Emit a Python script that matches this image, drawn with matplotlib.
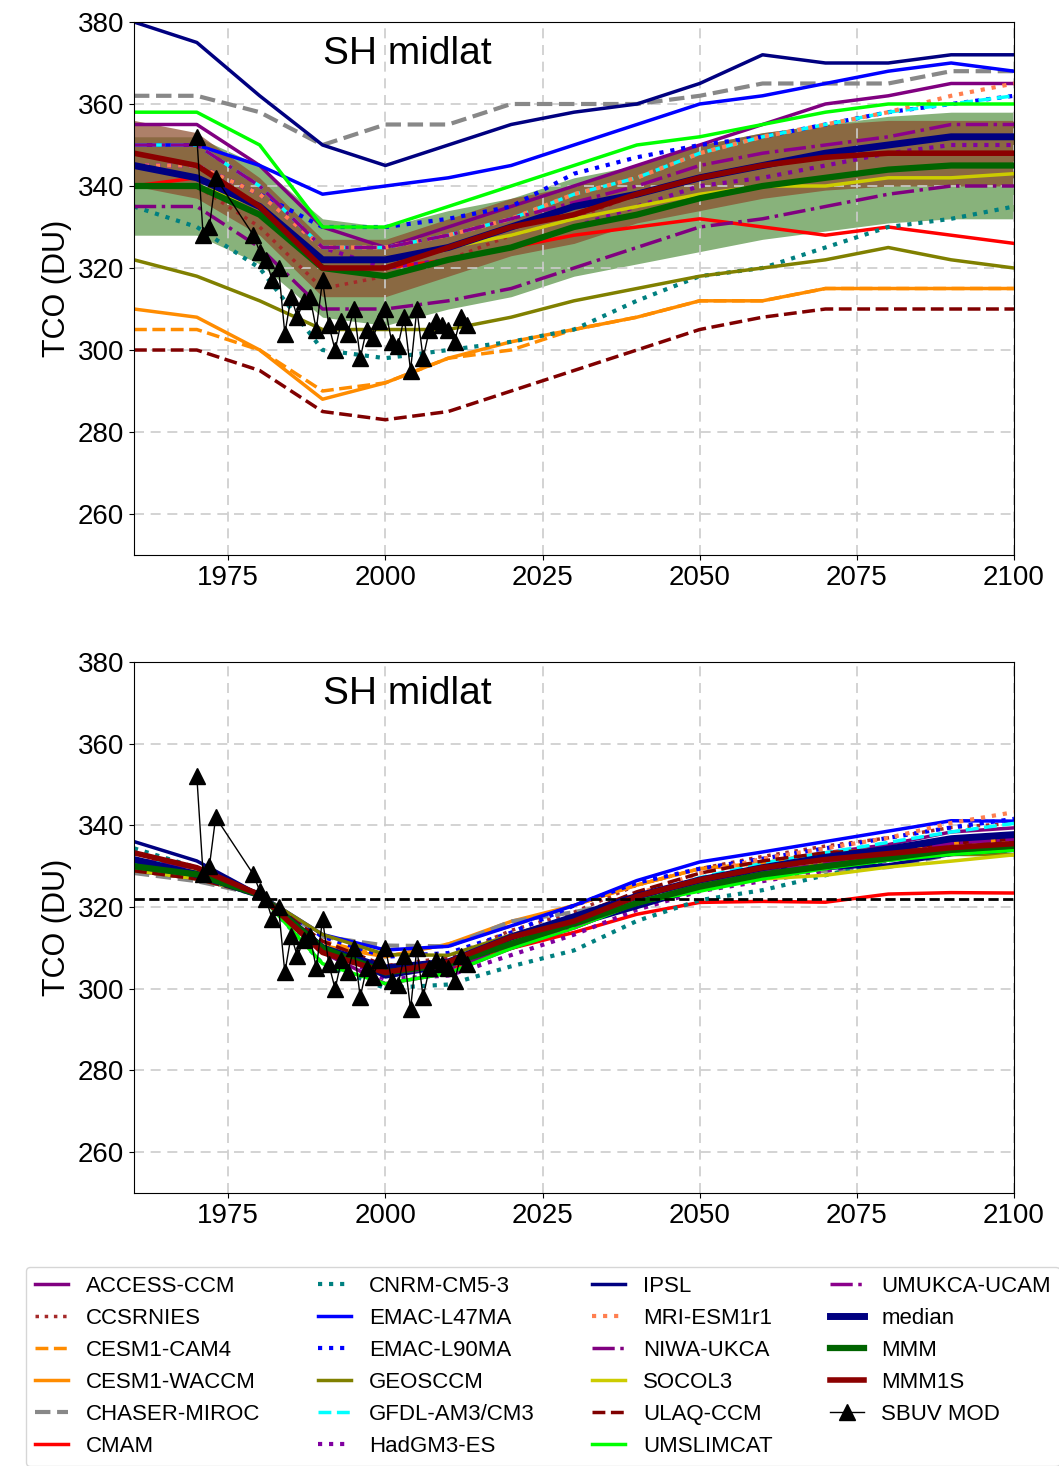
import matplotlib
matplotlib.use("Agg")
import matplotlib.pyplot as plt
import numpy as np
plt.rcParams['font.family'] = ['Liberation Sans', 'DejaVu Sans']

years = [1960,1970,1980,1990,2000,2010,2020,2030,2040,2050,2060,2070,2080,2090,2100]
models = {
 "ACCESS-CCM":   [355,355,345,330,325,330,335,340,345,350,355,360,362,365,365],
 "CCSRNIES":     [340,340,330,315,318,322,328,332,338,342,345,348,350,352,352],
 "CESM1-CAM4":   [305,305,300,290,292,298,300,305,308,312,312,315,315,315,315],
 "CESM1-WACCM":  [310,308,300,288,292,298,302,305,308,312,312,315,315,315,315],
 "CHASER-MIROC": [362,362,358,350,355,355,360,360,360,362,365,365,365,368,368],
 "CMAM":         [340,342,335,320,320,322,325,328,330,332,330,328,330,328,326],
 "CNRM-CM5-3":   [335,330,320,300,298,300,302,305,312,318,320,325,330,332,335],
 "EMAC-L47MA":   [350,350,345,338,340,342,345,350,355,360,362,365,368,370,368],
 "EMAC-L90MA":   [345,345,338,330,330,332,335,343,347,350,352,355,358,360,362],
 "GEOSCCM":      [322,318,312,305,305,305,308,312,315,318,320,322,325,322,320],
 "GFDL-AM3/CM3": [350,350,340,325,325,328,332,338,342,348,352,355,358,360,362],
 "HadGM3-ES":    [345,345,338,325,320,322,325,330,335,340,342,345,348,350,350],
 "IPSL":         [380,375,362,350,345,350,355,358,360,365,372,370,370,372,372],
 "MRI-ESM1r1":   [345,345,338,325,325,328,332,338,342,348,352,355,358,362,365],
 "NIWA-UKCA":    [335,335,325,310,310,312,315,320,325,330,332,335,338,340,340],
 "SOCOL3":       [340,340,335,322,322,325,328,332,335,338,340,340,342,342,343],
 "ULAQ-CCM":     [300,300,295,285,283,285,290,295,300,305,308,310,310,310,310],
 "UMSLIMCAT":    [358,358,350,330,330,335,340,345,350,352,355,358,360,360,360],
 "UMUKCA-UCAM":  [350,350,340,325,325,328,332,336,340,345,348,350,352,355,355],
 "median":       [345,342,335,322,322,325,330,335,338,342,345,348,350,352,352],
 "MMM":          [340,340,333,320,318,322,325,330,333,337,340,342,344,345,345],
 "MMM1S":        [348,345,335,320,320,325,330,333,338,342,345,347,348,348,348],
}
mmm_sd = [12,12,12,12,12,12,12,12,12,13,13,13,13,13,13]
mmm1s_sd = [8,8,7,7,7,7,7,7,7,8,8,8,8,8,8]
# adjusted (bottom panel) multi-model reference curve
adj_ref = [330,328,323,310,304,306,311,316,321,325,328,330,332,334,335]
sbuv_years = [1970,1971,1972,1973,1979,1980,1981,1982,1983,1984,1985,1986,1987,1988,1989,1990,
              1991,1992,1993,1994,1995,1996,1997,1998,1999,2000,2001,2002,2003,2004,2005,2006,
              2007,2008,2009,2010,2011,2012,2013]
sbuv = [352,328,330,342,328,324,322,317,320,304,313,308,312,313,305,317,306,300,307,304,
        310,298,305,303,307,310,302,301,308,295,310,298,305,307,306,305,302,308,306]

styles = {
 "ACCESS-CCM": ("#800080","-",2.5), "CCSRNIES": ("#a52a2a",":",2.5),
 "CESM1-CAM4": ("#ff8c00","--",2.5), "CESM1-WACCM": ("#ff8c00","-",2.5),
 "CHASER-MIROC": ("#888888","--",3), "CMAM": ("#ff0000","-",2.5),
 "CNRM-CM5-3": ("#008080",":",3), "EMAC-L47MA": ("#0000ff","-",2.5),
 "EMAC-L90MA": ("#0000ff",":",3), "GEOSCCM": ("#808000","-",2.5),
 "GFDL-AM3/CM3": ("#00ffff","--",2.5), "HadGM3-ES": ("#8000a0",":",3),
 "IPSL": ("#000080","-",2.5), "MRI-ESM1r1": ("#ff7f50",":",3),
 "NIWA-UKCA": ("#800080","-.",2.5), "SOCOL3": ("#cccc00","-",2.5),
 "ULAQ-CCM": ("#800000","--",2.5), "UMSLIMCAT": ("#00ff00","-",2.5),
 "UMUKCA-UCAM": ("#8b008b","-.",2.5), "median": ("#000080","-",5),
 "MMM": ("#006400","-",4.5), "MMM1S": ("#8b0000","-",4),
}

fig = plt.figure(figsize=(10.59,14.66), dpi=100)
ax1 = fig.add_axes([0.1265,0.6214,0.831,0.3636])
ax2 = fig.add_axes([0.1265,0.1862,0.831,0.3622])
yr = np.array(years)
mmm = np.array(models["MMM"], float)
for ax, adj in ((ax1, False), (ax2, True)):
    m1 = np.array(models["MMM1S"])
    if not adj:
        ax.fill_between(yr, mmm-np.array(mmm_sd), mmm+np.array(mmm_sd), color="#6a9f5a", alpha=0.8, lw=0)
        ax.fill_between(yr, m1-np.array(mmm1s_sd), m1+np.array(mmm1s_sd), color="#8b4a2a", alpha=0.7, lw=0)
    for name, v in models.items():
        v = np.array(v, float)
        if adj:
            dev = (v - v[2]) - (mmm - mmm[2])
            v = np.array(adj_ref) + 0.55*dev
        c, ls, lw = styles[name]
        ax.plot(yr, v, color=c, ls=ls, lw=lw, label=name)
    ax.plot(sbuv_years, sbuv, color="black", marker="^", ms=11, lw=1, label="SBUV MOD")
    if adj:
        ax.axhline(322, color="black", ls="--", lw=2)
    ax.set_xlim(1960,2100); ax.set_ylim(250,380)
    ax.set_xticks([1975,2000,2025,2050,2075,2100])
    ax.set_yticks(range(260,381,20))
    ax.tick_params(labelsize=20)
    ax.grid(True, ls=(0,(6,4)), color="#cccccc", lw=1.2)
    ax.set_ylabel("TCO (DU)", fontsize=22)
    ax.text(0.215,0.94,"SH midlat", transform=ax.transAxes, fontsize=28, va="center")
h, l = ax2.get_legend_handles_labels()
fig.legend(h, l, ncol=4, loc="lower left", bbox_to_anchor=(0.02,-0.003,0.985,0.15),
           mode="expand", fontsize=16, frameon=True, handlelength=1.5, labelspacing=0.5,
           borderaxespad=0.2)
fig.savefig("out.png", dpi=100)
